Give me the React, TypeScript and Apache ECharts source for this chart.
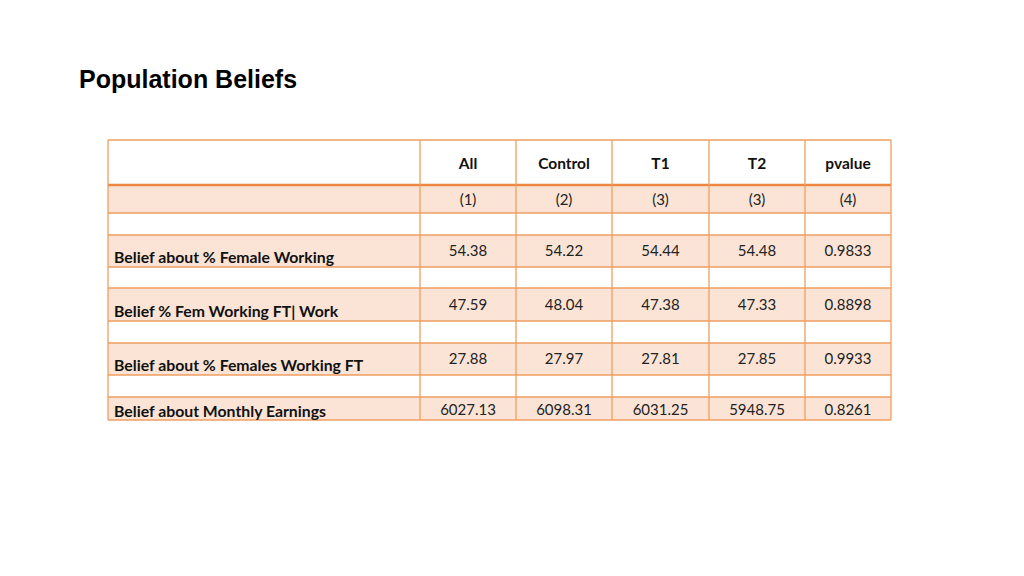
import React, { useEffect, useRef } from "react";
import * as echarts from "echarts";

const title = "Population Beliefs";
const columns = ["All", "Control", "T1", "T2", "pvalue"];
const colNumbers = ["(1)", "(2)", "(3)", "(3)", "(4)"];
const rowLabels = [
  "Belief about % Female Working",
  "Belief % Fem Working FT| Work",
  "Belief about % Females Working FT",
  "Belief about Monthly Earnings",
];
const allValues = [54.38, 47.59, 27.88, 6027.13];
const controlValues = [54.22, 48.04, 27.97, 6098.31];
const t1Values = [54.44, 47.38, 27.81, 6031.25];
const t2Values = [54.48, 47.33, 27.85, 5948.75];
const pValues = [0.9833, 0.8898, 0.9933, 0.8261];

const App: React.FC = () => {
  const ref = useRef<HTMLDivElement>(null);
  useEffect(() => {
    if (!ref.current) return;
    const chart = echarts.init(ref.current, null, { renderer: "svg" });

    const colX = [108, 420, 516, 612, 709, 805, 891];
    // row boundaries: header, numbers, then (spacer, data) pairs
    const rowY = [140, 185, 213, 235, 267, 288, 321, 343, 375, 397, 420];
    const shade = "#FBE4D5";
    const lineColor = "#EF9E60";
    const fontFamily = "Lato, 'Open Sans', sans-serif";
    const valueCols = [allValues, controlValues, t1Values, t2Values];

    const els: any[] = [];
    const shadedRows = [1, 3, 5, 7, 9];
    shadedRows.forEach((r) => {
      els.push({
        type: "rect",
        shape: { x: colX[0], y: rowY[r], width: colX[colX.length - 1] - colX[0], height: rowY[r + 1] - rowY[r] },
        style: { fill: shade },
        silent: true,
      });
    });
    rowY.forEach((y, i) => {
      els.push({
        type: "line",
        shape: { x1: colX[0], y1: y, x2: colX[colX.length - 1], y2: y },
        style: { stroke: i === 1 ? "#EC8640" : lineColor, lineWidth: i === 1 ? 2.4 : 1.3 },
        silent: true,
      });
    });
    colX.forEach((x) => {
      els.push({
        type: "line",
        shape: { x1: x, y1: rowY[0], x2: x, y2: rowY[rowY.length - 1] },
        style: { stroke: lineColor, lineWidth: 1.3 },
        silent: true,
      });
    });
    columns.forEach((c, i) => {
      const cx = (colX[i + 1] + colX[i + 2]) / 2;
      els.push({
        type: "text",
        x: cx,
        y: (rowY[0] + rowY[1]) / 2,
        style: { text: c, fill: "#111", font: `bold 15.5px ${fontFamily}`, align: "center", verticalAlign: "middle" },
      });
      els.push({
        type: "text",
        x: cx,
        y: (rowY[1] + rowY[2]) / 2,
        style: { text: colNumbers[i], fill: "#222", font: `15px ${fontFamily}`, align: "center", verticalAlign: "middle" },
      });
    });
    rowLabels.forEach((label, r) => {
      const top = rowY[3 + r * 2];
      const bottom = rowY[4 + r * 2];
      const isLast = r === rowLabels.length - 1;
      els.push({
        type: "text",
        x: colX[0] + 6,
        y: bottom - (isLast ? 10 : 11),
        style: { text: label, fill: "#111", font: `bold 15.8px ${fontFamily}`, align: "left", verticalAlign: "middle" },
      });
      const vy = isLast ? (top + bottom) / 2 : (top + bottom) / 2 - 1;
      valueCols.forEach((vals, c) => {
        els.push({
          type: "text",
          x: (colX[c + 1] + colX[c + 2]) / 2,
          y: vy,
          style: { text: vals[r].toFixed(2), fill: "#222", font: `15px ${fontFamily}`, align: "center", verticalAlign: "middle" },
        });
      });
      els.push({
        type: "text",
        x: (colX[5] + colX[6]) / 2,
        y: vy,
        style: { text: pValues[r].toFixed(4), fill: "#222", font: `15px ${fontFamily}`, align: "center", verticalAlign: "middle" },
      });
    });
    els.push({
      type: "text",
      x: 79,
      y: 79,
      style: { text: title, fill: "#000", font: "bold 25px 'Liberation Sans', Arial, sans-serif", align: "left", verticalAlign: "middle" },
    });

    chart.setOption({
      animation: false,
      backgroundColor: "#ffffff",
      graphic: { elements: els },
    });
    return () => chart.dispose();
  }, []);
  return <div ref={ref} style={{ position: "fixed", left: 0, top: 0, width: 1024, height: 576 }} />;
};

export default App;
